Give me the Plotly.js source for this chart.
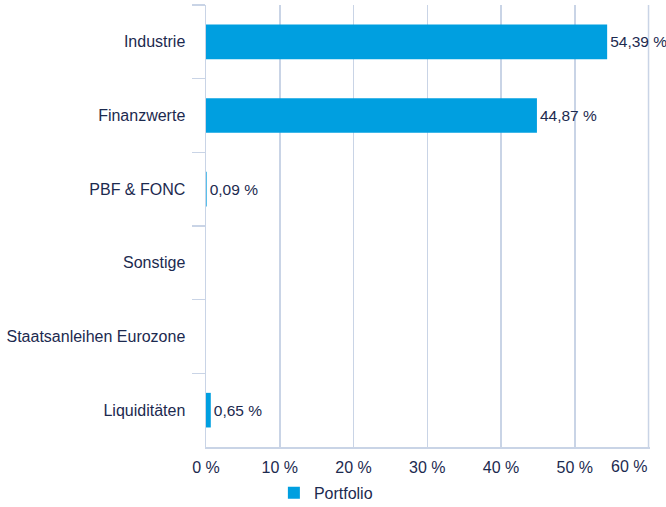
<!DOCTYPE html>
<html>
<head>
<meta charset="utf-8">
<script src="https://cdn.plot.ly/plotly-3.0.1.min.js"></script>
<style>html,body{margin:0;padding:0;background:#fff;}#chart{width:666px;height:507px;}</style>
</head>
<body>
<div id="chart"></div>
<script>
const categories = ["Industrie", "Finanzwerte", "PBF & FONC", "Sonstige", "Staatsanleihen Eurozone", "Liquiditäten"];
const portfolio = [54.39, 44.87, 0.09, null, null, 0.65];
const seriesName = "Portfolio";
const xTicks = [0, 10, 20, 30, 40, 50, 60];

const labels = portfolio.map(v => v == null ? "" : v.toFixed(2).replace(".", ",") + " %");
const tickLabels = xTicks.map(v => v + " %");
const lastTick = xTicks[xTicks.length - 1];
const textColor = "#1c2a4f";
const lineColor = "#c9d4e6";
const fontFam = "Liberation Sans, Arial, sans-serif";

const trace = {
  type: "bar",
  orientation: "h",
  name: seriesName,
  y: categories,
  x: portfolio,
  text: labels,
  textposition: "outside",
  cliponaxis: false,
  constraintext: "none",
  textfont: {family: fontFam, size: 15.5, color: textColor},
  marker: {color: "#009fe0"},
  hoverinfo: "skip"
};

const layout = {
  width: 666, height: 507,
  margin: {l: 206, r: 16, t: 5, b: 60, autoexpand: false},
  paper_bgcolor: "#fff", plot_bgcolor: "#fff",
  font: {family: fontFam, size: 16, color: textColor},
  bargap: 0.53,
  showlegend: true,
  legend: {orientation: "h", x: 0.27, xanchor: "center", yref: "container", y: 0.028, yanchor: "middle",
           bgcolor: "rgba(0,0,0,0)", font: {size: 16, color: textColor}},
  xaxis: {
    range: [0, 60.2], tickvals: xTicks.slice(0, -1), ticktext: tickLabels.slice(0, -1),
    showgrid: true, gridcolor: lineColor, gridwidth: 1.5,
    showline: true, linecolor: lineColor, linewidth: 1.5,
    zeroline: false, ticks: "", ticklabelstandoff: 5, fixedrange: true, automargin: false
  },
  yaxis: {
    type: "category", categoryorder: "array", categoryarray: categories,
    autorange: "reversed",
    showline: true, linecolor: lineColor, linewidth: 1.5,
    ticks: "outside", tickson: "boundaries", ticklen: 13, tickcolor: lineColor, tickwidth: 1.5,
    ticklabelstandoff: 16, showgrid: false, zeroline: false, fixedrange: true, automargin: false
  },
  shapes: [{type: "line", xref: "x", yref: "paper", x0: lastTick, x1: lastTick, y0: 0, y1: 1,
            line: {color: lineColor, width: 1.5}, layer: "below"}],
  annotations: [{xref: "x", yref: "paper", x: lastTick, y: 0, xanchor: "right", yanchor: "top",
                 yshift: -9, text: tickLabels[tickLabels.length - 1], showarrow: false,
                 font: {family: fontFam, size: 16, color: textColor}}]
};

Plotly.newPlot("chart", [trace], layout, {displayModeBar: false, staticPlot: true});
</script>
</body>
</html>
